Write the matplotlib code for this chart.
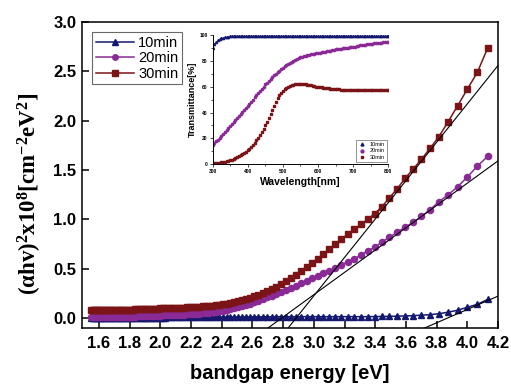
import numpy as np
import matplotlib
matplotlib.use("Agg")
import matplotlib.pyplot as plt

plt.rcParams['font.family'] = ['Liberation Sans', 'DejaVu Sans']
plt.rcParams['mathtext.fontset'] = 'custom'
plt.rcParams['mathtext.bf'] = 'Liberation Serif:bold'
plt.rcParams['mathtext.rm'] = 'Liberation Serif:bold'

# measurement grid (nm), 300 -> 800 in 5 nm steps
wavelength = np.arange(300, 805, 5)
energy = 1240.0 / wavelength

# (alpha h v)^2 x 1e8, one value per wavelength
ahv_10 = [0.19, 0.14, 0.11, 0.08, 0.06, 0.045, 0.035, 0.03, 0.025, 0.022,
          0.02, 0.018, 0.017, 0.016, 0.015, 0.015, 0.015, 0.015, 0.015, 0.015,
          0.015, 0.015, 0.015, 0.015, 0.015, 0.015, 0.015, 0.015, 0.015, 0.015,
          0.015, 0.014, 0.014, 0.014, 0.013, 0.013, 0.013, 0.012, 0.012, 0.012,
          0.011, 0.011, 0.011, 0.010, 0.010, 0.010, 0.010, 0.010, 0.009, 0.009,
          0.009, 0.009, 0.008, 0.008, 0.008, 0.008, 0.008, 0.007, 0.007, 0.007,
          0.007, 0.007, 0.006, 0.006, 0.006, 0.006, 0.006, 0.005, 0.005, 0.005,
          0.005, 0.005, 0.005, 0.004, 0.004, 0.004, 0.004, 0.004, 0.004, 0.004,
          0.003, 0.003, 0.003, 0.003, 0.003, 0.003, 0.003, 0.003, 0.002, 0.002,
          0.002, 0.002, 0.002, 0.002, 0.002, 0.002, 0.002, 0.002, 0.002, 0.002,
          0.002]
ahv_20 = [1.64, 1.54, 1.43, 1.33, 1.25, 1.18, 1.10, 1.03, 0.97, 0.92,
          0.87, 0.82, 0.77, 0.72, 0.68, 0.64, 0.60, 0.57, 0.54, 0.51,
          0.48, 0.455, 0.43, 0.405, 0.38, 0.355, 0.33, 0.31, 0.285, 0.265,
          0.245, 0.225, 0.21, 0.19, 0.175, 0.16, 0.145, 0.13, 0.12, 0.11,
          0.10, 0.09, 0.083, 0.076, 0.07, 0.064, 0.059, 0.055, 0.051, 0.048,
          0.045, 0.043, 0.041, 0.039, 0.037, 0.035, 0.034, 0.033, 0.032, 0.031,
          0.03, 0.029, 0.028, 0.027, 0.026, 0.025, 0.024, 0.023, 0.022, 0.021,
          0.020, 0.019, 0.018, 0.018, 0.017, 0.016, 0.016, 0.015, 0.015, 0.014,
          0.014, 0.013, 0.013, 0.013, 0.012, 0.012, 0.012, 0.011, 0.011, 0.011,
          0.011, 0.010, 0.010, 0.010, 0.010, 0.010, 0.010, 0.010, 0.010, 0.010,
          0.010]
ahv_30 = [2.74, 2.49, 2.32, 2.15, 1.99, 1.84, 1.72, 1.61, 1.51, 1.415,
          1.31, 1.22, 1.13, 1.06, 1.00, 0.95, 0.90, 0.85, 0.80, 0.75,
          0.70, 0.65, 0.60, 0.56, 0.515, 0.48, 0.44, 0.41, 0.38, 0.35,
          0.32, 0.295, 0.275, 0.255, 0.235, 0.22, 0.205, 0.19, 0.18, 0.17,
          0.16, 0.152, 0.145, 0.139, 0.134, 0.13, 0.126, 0.123, 0.12, 0.118,
          0.116, 0.114, 0.112, 0.11, 0.108, 0.107, 0.106, 0.105, 0.104, 0.103,
          0.102, 0.101, 0.100, 0.099, 0.098, 0.097, 0.096, 0.095, 0.094, 0.093,
          0.092, 0.091, 0.090, 0.090, 0.089, 0.088, 0.087, 0.087, 0.086, 0.086,
          0.085, 0.085, 0.084, 0.084, 0.083, 0.083, 0.082, 0.082, 0.081, 0.081,
          0.081, 0.080, 0.080, 0.080, 0.079, 0.079, 0.079, 0.078, 0.078, 0.078,
          0.078]

# transmittance [%] for the inset
trans_10 = [90, 93, 95, 96.5, 97.3, 97.9, 98.3, 98.6, 98.8, 99.0,
            99.1, 99.2, 99.2, 99.1, 99.2, 99.3, 99.2, 99.1, 99.2, 99.2,
            99.3, 99.2, 99.1, 99.2, 99.2, 99.3, 99.2, 99.2, 99.1, 99.2,
            99.2, 99.3, 99.2, 99.2, 99.1, 99.2, 99.3, 99.2, 99.2, 99.2,
            99.1, 99.2, 99.3, 99.2, 99.2, 99.2, 99.1, 99.2, 99.2, 99.3,
            99.2, 99.2, 99.1, 99.2, 99.2, 99.3, 99.2, 99.2, 99.2, 99.1,
            99.2, 99.3, 99.2, 99.2, 99.2, 99.1, 99.2, 99.2, 99.3, 99.2,
            99.2, 99.1, 99.2, 99.2, 99.3, 99.2, 99.2, 99.2, 99.1, 99.2,
            99.3, 99.2, 99.2, 99.2, 99.1, 99.2, 99.2, 99.3, 99.2, 99.2,
            99.1, 99.2, 99.2, 99.3, 99.2, 99.2, 99.2, 99.1, 99.2, 99.2,
            99.2]
trans_20 = [15, 16.3, 17.6, 19, 20.4, 21.8, 23.2, 24.7, 26.2, 27.7,
            29.2, 30.7, 32.3, 33.9, 35.5, 37.1, 38.7, 40.3, 41.9, 43.5,
            45, 46.7, 48.4, 50.1, 51.8, 53.5, 55.2, 56.9, 58.6, 60.2,
            61.8, 63.3, 64.8, 66.2, 67.6, 68.9, 70.2, 71.4, 72.6, 73.7,
            74.8, 75.8, 76.8, 77.7, 78.6, 79.4, 80.2, 80.9, 81.6, 82.2,
            82.8, 83.2, 83.6, 84.0, 84.4, 84.8, 85.1, 85.4, 85.7, 86.0,
            86.2, 86.5, 86.8, 87.1, 87.4, 87.7, 88.0, 88.2, 88.5, 88.7,
            89.0, 89.2, 89.4, 89.6, 89.8, 90.0, 90.2, 90.4, 90.6, 90.8,
            91.1, 91.3, 91.6, 91.8, 92.1, 92.3, 92.5, 92.7, 92.9, 93.1,
            93.3, 93.5, 93.7, 93.9, 94.1, 94.3, 94.4, 94.5, 94.7, 94.8,
            95.0]
trans_30 = [0.5, 0.6, 0.7, 0.9, 1.1, 1.3, 1.6, 1.9, 2.1, 2.5,
            2.9, 3.3, 3.8, 4.5, 5.2, 6.0, 6.9, 7.8, 8.7, 9.6,
            10.6, 12.0, 13.5, 15.0, 16.6, 18.3, 20.3, 22.5, 24.9, 27.4,
            30.0, 32.8, 35.7, 38.8, 42.0, 45.2, 48.2, 51.0, 53.4, 55.3,
            56.9, 58.2, 59.3, 60.1, 60.8, 61.3, 61.7, 62.0, 62.2, 62.3,
            62.3, 62.2, 62.1, 61.9, 61.7, 61.4, 61.1, 60.8, 60.5, 60.2,
            60.0, 59.8, 59.6, 59.4, 59.2, 59.0, 58.8, 58.6, 58.5, 58.3,
            58.2, 58.0, 57.9, 57.8, 57.7, 57.6, 57.5, 57.5, 57.4, 57.4,
            57.4, 57.3, 57.3, 57.3, 57.3, 57.3, 57.3, 57.3, 57.3, 57.4,
            57.4, 57.4, 57.5, 57.5, 57.5, 57.5, 57.5, 57.5, 57.5, 57.5,
            57.5]

labels = ['10min', '20min', '30min']
colors = ['#14186e', '#8a2a96', '#7a1416']
markers = ['^', 'o', 's']

# linear fits (slope, x-intercept) used for the band gap
fit_slope = [0.676, 1.13, 1.945]
fit_x0 = [3.87, 2.79, 2.884]

fig = plt.figure(figsize=(5.11, 3.89), dpi=100)
ax = fig.add_axes([0.1605, 0.1568, 0.8141, 0.7866])

for yv, lab, c, m in zip([ahv_10, ahv_20, ahv_30], labels, colors, markers):
    ax.plot(energy, yv, color=c, marker=m, markersize=4.4, lw=1.1, label=lab)

xl = np.array([1.49, 4.2])
for s, x0 in zip(fit_slope, fit_x0):
    ax.plot(xl, s * (xl - x0), color='black', lw=0.8, zorder=5)

ax.set_xlim(1.49, 4.2)
ax.set_ylim(-0.1, 3.0)
ax.set_xticks(np.arange(1.6, 4.21, 0.2))
ax.set_yticks(np.arange(0, 3.01, 0.5))
ax.xaxis.set_major_formatter(matplotlib.ticker.FormatStrFormatter('%.1f'))
ax.yaxis.set_major_formatter(matplotlib.ticker.FormatStrFormatter('%.1f'))
ax.tick_params(direction='in', length=5, width=1.1, labelsize=12)
ax.tick_params(axis='x', pad=6)
ax.tick_params(axis='y', pad=4)
for lbl in ax.get_xticklabels() + ax.get_yticklabels():
    lbl.set_fontweight('bold')
for sp in ax.spines.values():
    sp.set_linewidth(1.1)

ax.set_xlabel('bandgap energy [eV]', fontsize=14.5, fontweight='bold', labelpad=9)
fig.text(30 / 511, 1 - 194 / 389, r'$\mathbf{(\alpha hv)^2x10^8[cm^{-2}eV^2]}$',
         rotation=90, ha='center', va='center', fontsize=16.5)

leg = ax.legend(loc='upper left', fontsize=10.5, frameon=True, fancybox=False,
                edgecolor='#444444', handlelength=2.6, borderpad=0.25,
                labelspacing=0.1, handletextpad=0.3, borderaxespad=0.7,
                markerscale=0.9)
leg.get_frame().set_linewidth(0.8)

# inset: transmittance spectra
ins = fig.add_axes([0.4159, 0.5784, 0.344, 0.3308])
for tv, lab, c, m in zip([trans_10, trans_20, trans_30], labels, colors, markers):
    ins.plot(wavelength, tv, linestyle='none', color=c, marker=m, markersize=1.6,
             label=lab)
ins.set_xlim(300, 800)
ins.set_ylim(0, 100)
ins.set_xticks(np.arange(300, 801, 100))
ins.set_yticks(np.arange(0, 101, 20))
ins.set_xticks(np.arange(350, 800, 100), minor=True)
ins.set_yticks(np.arange(10, 100, 20), minor=True)
ins.tick_params(labelsize=3.5, length=2, width=0.5, direction='out', pad=1.5)
ins.tick_params(which='minor', length=1.2, width=0.5)
for lbl in ins.get_xticklabels() + ins.get_yticklabels():
    lbl.set_fontweight('bold')
ins.spines['top'].set_visible(False)
ins.spines['right'].set_visible(False)
for sp in ['left', 'bottom']:
    ins.spines[sp].set_linewidth(0.7)
ins.set_xlabel('Wavelength[nm]', fontsize=7.5, fontweight='bold', labelpad=2)
ins.set_ylabel('Transmittance[%]', fontsize=6.5, fontweight='bold', labelpad=2)
ileg = ins.legend(loc='lower right', fontsize=4, frameon=True, fancybox=False,
                  edgecolor='#444444', markerscale=1.3, handlelength=1.2,
                  borderpad=0.4, labelspacing=0.3, borderaxespad=0.3)
ileg.get_frame().set_linewidth(0.5)

fig.savefig('out.png', dpi=100)
